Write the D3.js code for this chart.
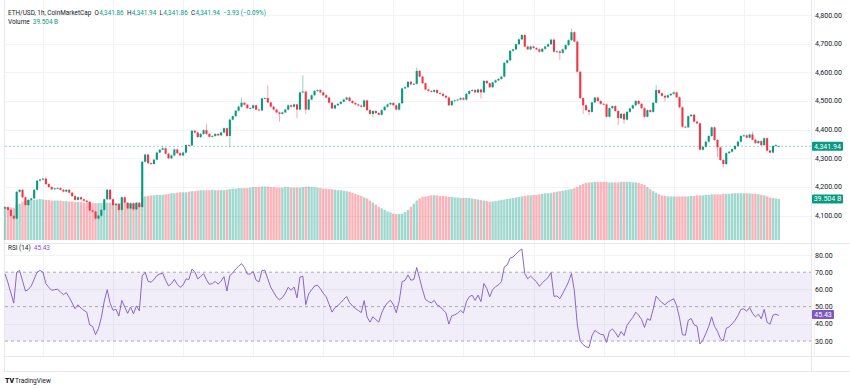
<!DOCTYPE html>
<html>
<head>
<meta charset="utf-8">
<script src="https://cdn.jsdelivr.net/npm/d3@7"></script>
<style>
  body { margin: 0; background: #fff; }
  svg { display: block; font-family: Roboto, "Noto Sans", sans-serif; }
</style>
</head>
<body>
<svg id="chart" width="850" height="388"></svg>
<script>
// hourly closes, ETH/USD, from Sep 29 11:00
const closes = [
  4129, 4120, 4099, 4090, 4183, 4190, 4164, 4137, 4155, 4160,
  4190, 4222, 4226, 4229, 4210, 4200, 4192, 4195, 4196, 4190,
  4184, 4190, 4180, 4168, 4155, 4164, 4157, 4152, 4148, 4118,
  4114, 4090, 4100, 4120, 4157, 4190, 4157, 4137, 4140, 4120,
  4164, 4145, 4125, 4143, 4122, 4145, 4130, 4288, 4313, 4283,
  4280, 4295, 4320, 4330, 4335, 4316, 4300, 4310, 4331, 4318,
  4310, 4320, 4346, 4345, 4396, 4390, 4374, 4385, 4398, 4385,
  4375, 4378, 4385, 4380, 4390, 4405, 4378, 4435, 4447, 4466,
  4480, 4494, 4487, 4475, 4475, 4485, 4470, 4467, 4509, 4510,
  4495, 4480, 4470, 4460, 4455, 4460, 4470, 4485, 4480, 4488,
  4470, 4530, 4533, 4470, 4505, 4520, 4535, 4538, 4530, 4520,
  4512, 4494, 4474, 4485, 4490, 4497, 4505, 4512, 4500, 4493,
  4488, 4484, 4480, 4502, 4468, 4455, 4465, 4458, 4452, 4468,
  4480, 4488, 4493, 4485, 4470, 4492, 4544, 4548, 4567, 4558,
  4560, 4605, 4585, 4562, 4540, 4535, 4532, 4538, 4528, 4525,
  4518, 4512, 4485, 4500, 4502, 4505, 4510, 4505, 4525, 4535,
  4538, 4530, 4540, 4530, 4570, 4562, 4548, 4565, 4572, 4577,
  4585, 4633, 4642, 4675, 4680, 4698, 4715, 4730, 4690, 4680,
  4690, 4685, 4680, 4672, 4682, 4690, 4698, 4714, 4672, 4673,
  4668, 4680, 4695, 4712, 4740, 4707, 4602, 4510, 4485, 4468,
  4462, 4495, 4512, 4500, 4490, 4488, 4445, 4475, 4482, 4465,
  4440, 4455, 4435, 4462, 4474, 4485, 4500, 4490, 4475, 4445,
  4468, 4462, 4494, 4538, 4527, 4518, 4512, 4520, 4525, 4530,
  4513, 4478, 4410, 4408, 4447, 4452, 4428, 4422, 4330, 4340,
  4358, 4378, 4408, 4364, 4338, 4294, 4280, 4318, 4323, 4332,
  4343, 4358, 4378, 4380, 4372, 4383, 4365, 4353, 4360, 4346,
  4370, 4327, 4320, 4343, 4345.87, 4341.94
];
const firstOpen = 4125;

// rolling 24h volume, billions
const volumes = [
  32, 32, 31.5, 31, 34, 35, 37, 38, 38.5, 38.5,
  38.5, 39, 39.5, 39, 38.5, 38.5, 38, 38, 38, 38,
  37.5, 37.5, 37, 37, 36.5, 36.5, 36.5, 36, 36, 36,
  35.5, 35.5, 35.5, 35.5, 35.5, 36, 36, 35.5, 35.5, 35.5,
  35.5, 35.5, 35.5, 35, 35, 35, 35, 41, 42, 42.5,
  43, 43, 43.5, 43.5, 43.5, 44, 44.5, 45, 45, 45.5,
  46, 46, 46, 46.5, 47, 47, 47.5, 48, 48, 48,
  48, 48.5, 48, 48, 48, 48, 48.5, 49, 49.5, 49.5,
  50, 50, 50, 50, 50.5, 51, 51, 51, 51.5, 51.5,
  51.5, 51, 51, 50.5, 50.5, 50.5, 51, 51, 50.5, 50.5,
  50.5, 50.5, 51, 51.5, 51.5, 51, 51, 50.5, 50, 49.5,
  49.5, 49, 49, 48.5, 48, 48, 47.5, 47, 46.5, 45.5,
  44.5, 43.5, 42.5, 41, 40, 38, 36, 34, 32, 30.5,
  29, 27.5, 26.5, 25.5, 25, 25, 25.5, 27, 29, 32,
  35, 38, 40, 41.5, 42, 42.5, 43, 43, 43, 42.5,
  42.5, 42, 41.5, 41.5, 41, 41, 40.5, 40.5, 40.5, 40.5,
  40, 39.5, 39, 38.5, 38, 37.5, 37, 37, 37.5, 38,
  38.5, 39, 39.5, 40, 40.5, 41, 41.5, 42, 42.5, 43,
  43, 43.5, 43.5, 44, 44.5, 45, 45, 45.5, 46, 46.5,
  47, 47.5, 48, 48.5, 49, 50, 51, 53, 54, 55,
  55.5, 55.5, 56, 56, 56, 56, 56, 55.5, 55.5, 55.5,
  55.5, 56, 56, 56, 56, 55.5, 55.5, 55, 54, 53,
  51, 49, 47, 45.5, 44, 43, 42.5, 42, 42, 42,
  42, 42, 42, 42, 42, 42.5, 42.5, 43, 43, 43,
  43.5, 43.5, 44, 44, 44, 44, 44.5, 44.5, 44.5, 45,
  45, 45, 45, 45, 45, 45, 44.5, 44.5, 44, 43.5,
  43, 42, 41, 40.5, 40, 39.504
];

// long wicks: [index, high, low]
const wicks = [
  [14, 4236, null], [54, 4343, null], [69, 4420, null], [77, null, 4340],
  [81, 4512, null], [90, 4555, null], [94, null, 4428], [100, null, 4440],
  [102, 4590, null], [103, null, 4455], [126, null, 4443], [141, 4617, null],
  [163, null, 4508], [190, null, 4643], [194, 4752, null], [198, null, 4455],
  [200, null, 4450], [210, null, 4416], [212, null, 4420], [219, null, 4440],
  [223, 4556, null], [226, null, 4498], [244, null, 4305], [246, null, 4268],
  [256, 4393, null]
];

// RSI of the first 14 bars (no history before them here)
const rsiHead = [69, 64, 58, 52, 70, 71, 65, 59, 60, 62, 66, 70, 71, 70];

const lastBar = { o: 4341.86, h: 4341.94, l: 4341.86, c: 4341.94, chg: "\u22123.93 (\u22120.09%)" };
const volLabel = "39.504 B";
const rsiLast = 45.43;

const priceTicks = [4100, 4200, 4300, 4400, 4500, 4600, 4700, 4800];
const rsiTicks = [30, 40, 50, 60, 70, 80];
const rsiBands = [30, 50, 70];
const startTime = new Date(2025, 8, 29, 11);

const up = "#089981", down = "#f23645", rsiColor = "#7e57c2", textColor = "#131722";
const svg = d3.select("#chart");
const plotL = 5, plotR = 811;

const hour = 3600 * 1000;
const x = d3.scaleTime()
  .domain([startTime, new Date(+startTime + 277 * hour)])
  .range([5, 5 + 277 * 2.92]);
const y = d3.scaleLinear().domain([4300, 4800]).range([158.3, 15]);
const yVol = d3.scaleLinear().domain([0, 56]).range([240, 240 - 56 * 1.038]);
const yRsi = d3.scaleLinear().domain([30, 80]).range([341, 255]);

const bars = closes.map(function(c, i) {
  let o = i == 0 ? firstOpen : closes[i - 1];
  if (i == closes.length - 1) o = lastBar.o;
  let h = Math.max(o, c) + 3, l = Math.min(o, c) - 3;
  if (i == closes.length - 1) { h = lastBar.h + 2; l = lastBar.l - 2; }
  return { t: new Date(+startTime + i * hour), o: o, h: h, l: l, c: c, v: volumes[i] };
});
wicks.forEach(function(w) {
  if (w[1] != null) bars[w[0]].h = w[1];
  if (w[2] != null) bars[w[0]].l = w[2];
});

// RSI (14), Wilder smoothing
function rsi(vals, n) {
  const out = vals.map(function() { return null; });
  let g = 0, l = 0;
  for (let i = 1; i <= n; i++) {
    const d = vals[i] - vals[i - 1];
    if (d > 0) g += d; else l -= d;
  }
  g /= n; l /= n;
  out[n] = 100 - 100 / (1 + g / l);
  for (let i = n + 1; i < vals.length; i++) {
    const d = vals[i] - vals[i - 1];
    g = (g * (n - 1) + Math.max(d, 0)) / n;
    l = (l * (n - 1) + Math.max(-d, 0)) / n;
    out[i] = 100 - 100 / (1 + g / l);
  }
  return out;
}
const rsiVals = rsi(closes, 14);
rsiHead.forEach(function(v, i) { rsiVals[i] = v; });

// grid
const days = d3.timeDay.range(new Date(2025, 8, 30), new Date(2025, 9, 12));
const grid = svg.append("g").attr("stroke", "#f2f3f6").attr("stroke-width", 1);
grid.selectAll(".v").data(days).enter().append("line")
  .attr("x1", function(d) { return Math.round(x(d)) + 0.5; })
  .attr("x2", function(d) { return Math.round(x(d)) + 0.5; })
  .attr("y1", 0).attr("y2", 356);
grid.selectAll(".h").data(priceTicks).enter().append("line")
  .attr("x1", plotL).attr("x2", plotR)
  .attr("y1", function(d) { return Math.round(y(d)) + 0.5; })
  .attr("y2", function(d) { return Math.round(y(d)) + 0.5; });
grid.selectAll(".r").data([40, 60, 80]).enter().append("line")
  .attr("x1", plotL).attr("x2", plotR)
  .attr("y1", function(d) { return Math.round(yRsi(d)) + 0.5; })
  .attr("y2", function(d) { return Math.round(yRsi(d)) + 0.5; });

// frame
const frame = svg.append("g").attr("stroke", "#e6e8ee").attr("fill", "none");
frame.append("line").attr("x1", 4.5).attr("x2", 4.5).attr("y1", 0).attr("y2", 371);
frame.append("line").attr("x1", plotR + 0.5).attr("x2", plotR + 0.5).attr("y1", 0).attr("y2", 371);
frame.append("line").attr("x1", 4).attr("x2", 850).attr("y1", 243.5).attr("y2", 243.5);
frame.append("line").attr("x1", 4).attr("x2", 850).attr("y1", 356.5).attr("y2", 356.5);
frame.append("line").attr("x1", 4).attr("x2", 850).attr("y1", 371.5).attr("y2", 371.5);

// volume
svg.append("g").selectAll("rect").data(bars).enter().append("rect")
  .attr("x", function(d) { return x(d.t) - 1.2; })
  .attr("width", 2.4)
  .attr("y", function(d) { return yVol(d.v); })
  .attr("height", function(d) { return yVol(0) - yVol(d.v); })
  .attr("fill", function(d) { return d.c >= d.o ? up : down; })
  .attr("opacity", 0.38);

// current price line
svg.append("line")
  .attr("x1", plotL).attr("x2", plotR)
  .attr("y1", y(lastBar.c)).attr("y2", y(lastBar.c))
  .attr("stroke", up).attr("stroke-opacity", 0.6).attr("stroke-width", 0.7)
  .attr("stroke-dasharray", "2,2");

// candles
const candles = svg.append("g").selectAll("g").data(bars).enter().append("g");
candles.append("line")
  .attr("x1", function(d) { return x(d.t); })
  .attr("x2", function(d) { return x(d.t); })
  .attr("y1", function(d) { return y(d.h); })
  .attr("y2", function(d) { return y(d.l); })
  .attr("stroke", function(d) { return d.c >= d.o ? up : down; })
  .attr("stroke-opacity", 0.55)
  .attr("stroke-width", 0.8);
candles.append("rect")
  .attr("x", function(d) { return x(d.t) - 1.05; })
  .attr("width", 2.1)
  .attr("y", function(d) { return y(Math.max(d.o, d.c)); })
  .attr("height", function(d) { return Math.max(0.8, Math.abs(y(d.o) - y(d.c))); })
  .attr("fill", function(d) { return d.c >= d.o ? up : down; });

// RSI pane
svg.append("rect")
  .attr("x", plotL).attr("width", plotR - plotL)
  .attr("y", yRsi(70)).attr("height", yRsi(30) - yRsi(70))
  .attr("fill", rsiColor).attr("opacity", 0.1);
svg.append("g").selectAll("line").data(rsiBands).enter().append("line")
  .attr("x1", plotL).attr("x2", plotR)
  .attr("y1", function(d) { return yRsi(d); })
  .attr("y2", function(d) { return yRsi(d); })
  .attr("stroke", "#9598a1").attr("stroke-width", 0.8)
  .attr("stroke-dasharray", "3,3");
const rsiLine = d3.line()
  .defined(function(d) { return d != null; })
  .x(function(d, i) { return x(bars[i].t); })
  .y(function(d) { return yRsi(d); });
svg.append("path")
  .attr("d", rsiLine(rsiVals))
  .attr("fill", "none").attr("stroke", rsiColor).attr("stroke-width", 0.9);

// price axis
const fmt = d3.format(",.2f");
const axisText = svg.append("g").attr("font-size", 7).attr("fill", textColor);
axisText.selectAll(".p").data(priceTicks).enter().append("text")
  .attr("x", 815).attr("y", function(d) { return y(d) + 2.5; })
  .text(function(d) { return fmt(d); });
axisText.selectAll(".r").data(rsiTicks).enter().append("text")
  .attr("x", 815).attr("y", function(d) { return yRsi(d) + 2.5; })
  .text(function(d) { return fmt(d); });

function tag(yy, w, color, label) {
  svg.append("rect").attr("x", 812).attr("y", yy - 4.5).attr("width", w).attr("height", 9)
    .attr("rx", 1).attr("fill", color);
  svg.append("text").attr("x", 812 + w / 2).attr("y", yy + 2.5).attr("text-anchor", "middle")
    .attr("font-size", 7).attr("fill", "#fff").text(label);
}
tag(y(lastBar.c), 31, up, fmt(lastBar.c));
tag(yVol(volumes[volumes.length - 1]), 31, up, volLabel);
tag(yRsi(rsiLast), 22, rsiColor, rsiLast.toFixed(2));

// time axis
const xAxis = d3.axisBottom(x).tickValues(days).tickSize(0)
  .tickFormat(function(d) { return d.getDate() == 1 ? "Oct" : d.getDate(); });
svg.append("defs").append("clipPath").attr("id", "clipx")
  .append("rect").attr("x", 0).attr("y", 356).attr("width", 816.5).attr("height", 20);
const gx = svg.append("g").attr("transform", "translate(0,357)").attr("clip-path", "url(#clipx)")
  .call(xAxis);
gx.select(".domain").remove();
gx.selectAll("text").attr("font-size", 7).attr("fill", textColor)
  .attr("font-family", "Roboto, sans-serif")
  .attr("font-weight", function(d) { return d.getDate() == 1 ? 700 : 400; });

// legends, laid out left to right
const leg = svg.append("g").attr("font-size", 6.4).attr("fill", textColor);
function legendRow(yy, parts) {
  let cx = 8;
  parts.forEach(function(p) {
    const t = leg.append("text").attr("x", cx).attr("y", yy).text(p[0]);
    if (p[1]) t.attr("fill", p[1]);
    cx += t.node().getComputedTextLength() + p[2];
  });
}
legendRow(14.5, [
  ["ETH/USD, 1h, CoinMarketCap", null, 3.2],
  ["O", null, 0.3], [fmt(lastBar.o), up, 3.2],
  ["H", null, 0.3], [fmt(lastBar.h), up, 3.2],
  ["L", null, 0.3], [fmt(lastBar.l), up, 3.2],
  ["C", null, 0.3], [fmt(lastBar.c), up, 3.2],
  [lastBar.chg, up, 0]
]);
legendRow(23.5, [["Volume", null, 3.2], [volLabel, up, 0]]);
legendRow(249.5, [["RSI (14)", null, 3.2], [rsiLast.toFixed(2), rsiColor, 0]]);

// logo
const logo = svg.append("g").attr("fill", textColor);
logo.append("text").attr("x", 5).attr("y", 382.5).attr("font-size", 7).attr("font-weight", 900).text("TV");
logo.append("text").attr("x", 15).attr("y", 382.5).attr("font-size", 6.5).text("TradingView");
</script>
</body>
</html>
